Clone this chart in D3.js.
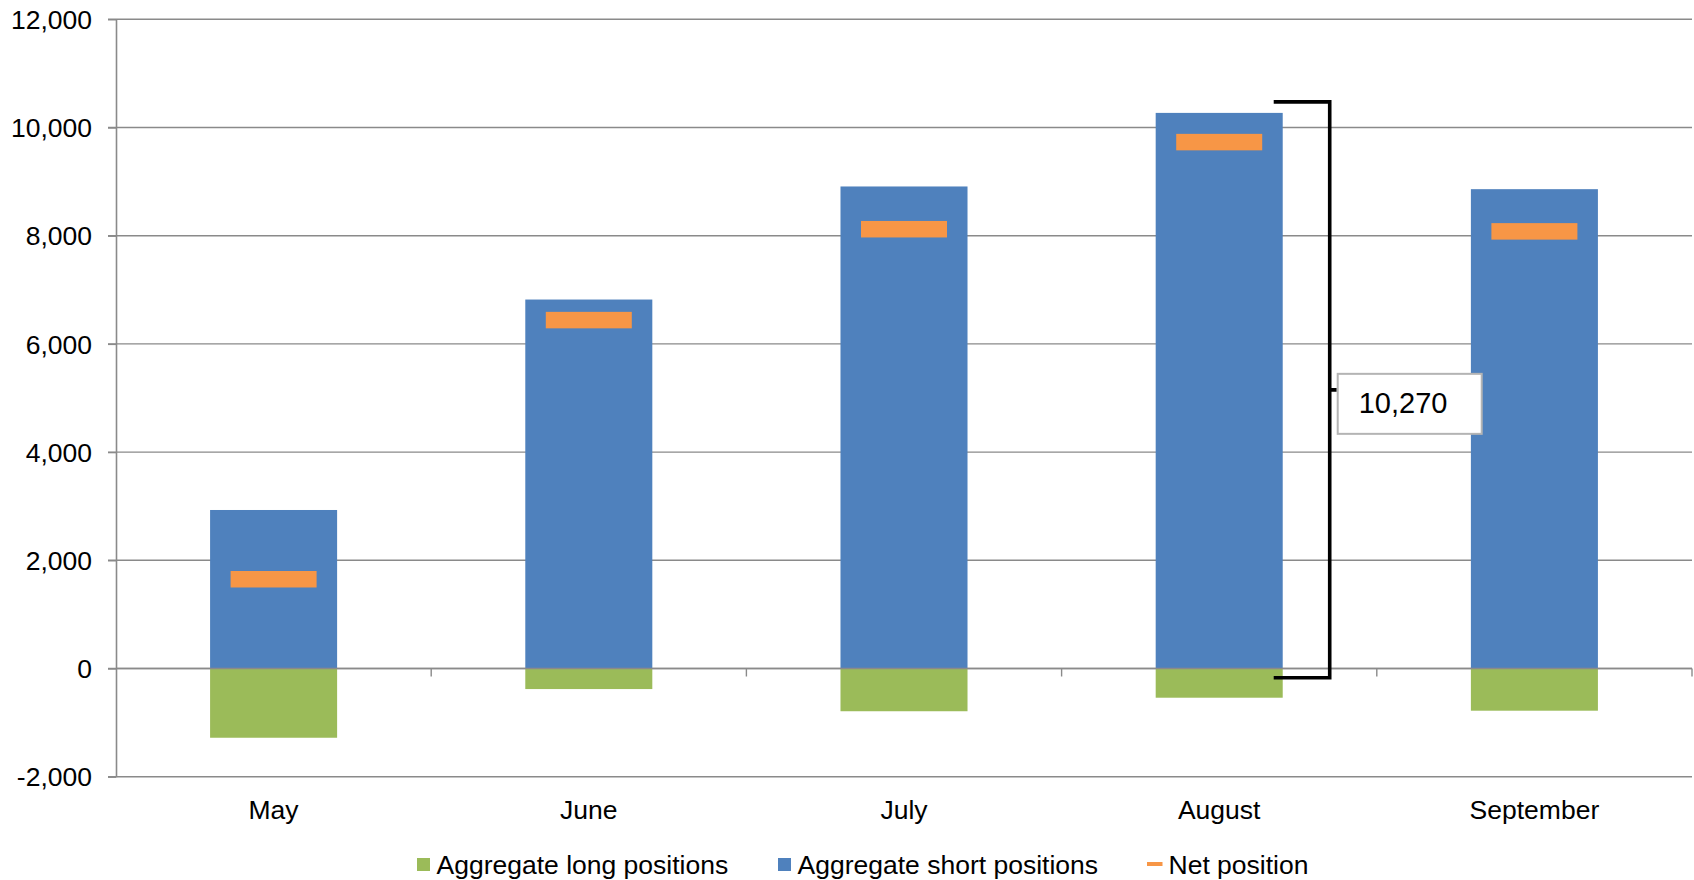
<!DOCTYPE html>
<html>
<head>
<meta charset="utf-8">
<script src="https://cdn.jsdelivr.net/npm/d3@7"></script>
<style>
  html, body { margin: 0; padding: 0; background: #fff; }
  svg { display: block; font-family: "Liberation Sans", Arial, sans-serif; }
</style>
</head>
<body>
<svg id="chart" width="1694" height="880"></svg>
<script>
// Monthly aggregate positions
const months = ["May", "June", "July", "August", "September"];
const longPositions = [-1280, -380, -790, -540, -780];
const shortPositions = [2930, 6820, 8910, 10270, 8860];
const netPositions = [1650, 6440, 8120, 9730, 8080];
const yTicks = [-2000, 0, 2000, 4000, 6000, 8000, 10000, 12000];
const legendLabels = ["Aggregate long positions", "Aggregate short positions", "Net position"];
const calloutMonth = "August";
const calloutValue = 10270;

const colors = { long: "#9BBB59", short: "#4F81BD", net: "#F79646", grid: "#8a8a8a", text: "#000" };

const svg = d3.select("#chart");
const plotLeft = 116, plotRight = 1692, plotTop = 19.3, plotBottom = 776.7;

const fmt = d3.formatLocale({ decimal: ".", thousands: ",", grouping: [3], currency: ["", ""], minus: "-" }).format(",");

const x = d3.scaleBand().domain(months).range([plotLeft, plotRight]).paddingInner(0.597).paddingOuter(0.2985);
const y = d3.scaleLinear().domain([-2000, 12000]).range([plotBottom, plotTop]);

const rows = months.map((m, i) => ({ month: m, long: longPositions[i], short: shortPositions[i], net: netPositions[i] }));

// horizontal gridlines
svg.append("g").selectAll("line").data(yTicks).join("line")
  .attr("x1", plotLeft - 8).attr("x2", plotRight)
  .attr("y1", d => y(d)).attr("y2", d => y(d))
  .attr("stroke", colors.grid).attr("stroke-width", 1.4);

// y axis
const yAxis = svg.append("g").attr("transform", `translate(${plotLeft},0)`)
  .call(d3.axisLeft(y).tickValues(yTicks).tickSize(8).tickSizeOuter(0).tickPadding(16).tickFormat(fmt));
yAxis.select(".domain").attr("stroke", colors.grid).attr("stroke-width", 1.6);
yAxis.selectAll(".tick line").attr("stroke", colors.grid).attr("stroke-width", 1.4);
yAxis.selectAll(".tick text").attr("font-size", 26.5).attr("fill", colors.text)
  .attr("font-family", "Liberation Sans, Arial, sans-serif").attr("dy", "0.35em");

// short positions (above zero)
svg.append("g").selectAll("rect").data(rows).join("rect")
  .attr("x", d => x(d.month)).attr("width", x.bandwidth())
  .attr("y", d => y(d.short)).attr("height", d => y(0) - y(d.short))
  .attr("fill", colors.short);

// long positions (below zero)
svg.append("g").selectAll("rect").data(rows).join("rect")
  .attr("x", d => x(d.month)).attr("width", x.bandwidth())
  .attr("y", y(0)).attr("height", d => y(d.long) - y(0))
  .attr("fill", colors.long);

// category axis along zero
const xAxis = svg.append("g");
xAxis.append("line").attr("x1", plotLeft).attr("x2", plotRight).attr("y1", y(0)).attr("y2", y(0))
  .attr("stroke", colors.grid).attr("stroke-width", 1.6);
const boundaries = months.map(m => x(m) + x.bandwidth() / 2 + x.step() / 2);
xAxis.selectAll("line.tick").data(boundaries).join("line").attr("class", "tick")
  .attr("x1", d => d).attr("x2", d => d).attr("y1", y(0)).attr("y2", y(0) + 8)
  .attr("stroke", colors.grid).attr("stroke-width", 1.4);
svg.append("g").selectAll("text").data(months).join("text")
  .attr("x", d => x(d) + x.bandwidth() / 2).attr("y", 819)
  .attr("text-anchor", "middle").attr("font-size", 26.5).attr("fill", colors.text)
  .text(d => d);

// net position dash markers
const markerW = 86, markerH = 16.5;
svg.append("g").selectAll("rect").data(rows).join("rect")
  .attr("x", d => x(d.month) + x.bandwidth() / 2 - markerW / 2).attr("width", markerW)
  .attr("y", d => y(d.net) - markerH / 2).attr("height", markerH)
  .attr("fill", colors.net);

// bracket callout spanning the August short position
const bx0 = x(calloutMonth) + x.bandwidth() - 9;
const bx1 = bx0 + 56;
const bTop = y(calloutValue) - 11;
const bBot = y(0) + 9.3;
const bMid = (bTop + bBot) / 2;
svg.append("path")
  .attr("d", `M${bx0},${bTop}H${bx1}V${bBot}H${bx0}M${bx1},${bMid}H${bx1 + 7}`)
  .attr("fill", "none").attr("stroke", "#000").attr("stroke-width", 3.6);
svg.append("rect")
  .attr("x", bx1 + 8).attr("y", bMid - 16).attr("width", 144).attr("height", 60)
  .attr("fill", "#fff").attr("stroke", "#b4b4b4").attr("stroke-width", 2);
svg.append("text")
  .attr("x", bx1 + 29).attr("y", bMid + 23).attr("font-size", 29).attr("fill", colors.text)
  .text(fmt(calloutValue));

// legend
const legend = svg.append("g");
const legendX = [417, 778, 1147];
const legendTextX = [436.5, 797.5, 1168.5];
legend.append("rect").attr("x", legendX[0]).attr("y", 858).attr("width", 13).attr("height", 13).attr("fill", colors.long);
legend.append("rect").attr("x", legendX[1]).attr("y", 858).attr("width", 13).attr("height", 13).attr("fill", colors.short);
legend.append("rect").attr("x", legendX[2]).attr("y", 862).attr("width", 15.5).attr("height", 4).attr("fill", colors.net);
legend.selectAll("text").data(legendLabels).join("text")
  .attr("x", (d, i) => legendTextX[i]).attr("y", 873.5)
  .attr("font-size", 26.5).attr("fill", colors.text)
  .text(d => d);
</script>
</body>
</html>
